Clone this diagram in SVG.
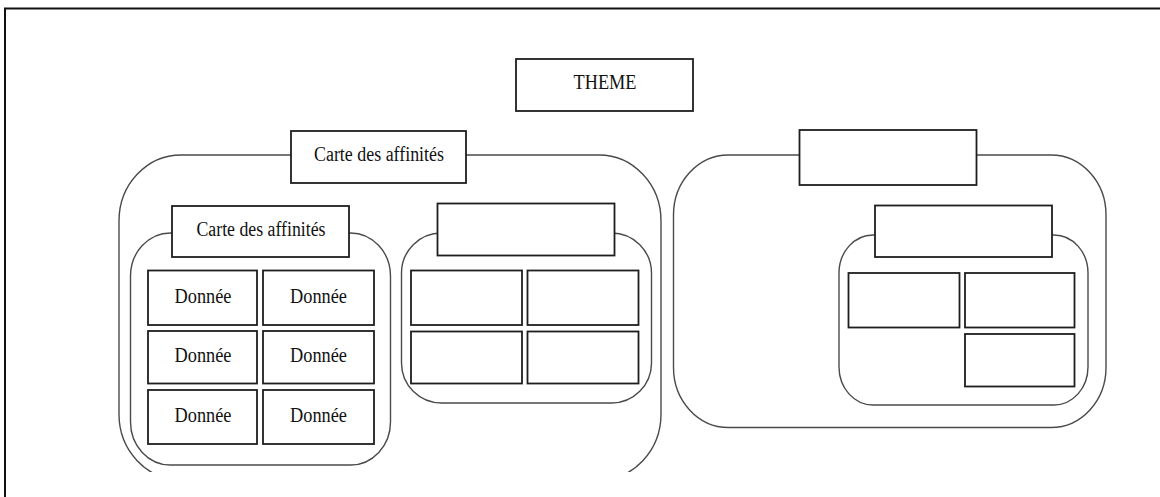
<svg xmlns="http://www.w3.org/2000/svg" width="1160" height="497" viewBox="0 0 1160 497">
<style>
.frame{stroke:#111;stroke-width:2;fill:none}
.group{fill:#fff;stroke:#4a4a4a;stroke-width:1.4}
.box{fill:#fff;stroke:#1e1e1e;stroke-width:1.8}
.t{font-family:"Liberation Serif","Times New Roman",serif;font-size:20px;fill:#111;text-anchor:middle}
</style>
<defs>
<clipPath id="clipBottom"><rect x="0" y="0" width="1160" height="472"/></clipPath>
</defs>
<rect width="1160" height="497" fill="#fff"/>
<g id="frame">
<line class="frame" x1="4" y1="8.5" x2="1160" y2="8.5"/>
<line class="frame" x1="5" y1="8" x2="5" y2="497"/>
</g>
<g id="connectors"></g>
<g id="theme">
<rect class="box" x="516" y="59" width="177" height="52"/>
<text class="t" x="605" y="88.5" textLength="63" lengthAdjust="spacingAndGlyphs">THEME</text>
</g>
<g id="group-left" clip-path="url(#clipBottom)">
<rect class="group" x="119" y="155" width="542" height="325" rx="62" ry="66"/>
</g>
<g id="group-right">
<rect class="group" x="673.5" y="155" width="432.5" height="272.5" rx="55" ry="60"/>
</g>
<g id="title-left">
<rect class="box" x="291" y="131" width="175" height="52"/>
<text class="t" x="379" y="161" textLength="130" lengthAdjust="spacingAndGlyphs">Carte des affinités</text>
</g>
<g id="title-right">
<rect class="box" x="799.5" y="130" width="177" height="55"/>
</g>
<g id="sub-left">
<rect class="group" x="130.5" y="233" width="260" height="232" rx="40" ry="43"/>
</g>
<g id="sub-left-title">
<rect class="box" x="172" y="206" width="177" height="51"/>
<text class="t" x="261" y="235.5" textLength="129" lengthAdjust="spacingAndGlyphs">Carte des affinités</text>
</g>
<g id="cell-l-1"><rect class="box" x="148" y="270.5" width="109" height="54.5"/><text class="t" x="203" y="302.5" textLength="57" lengthAdjust="spacingAndGlyphs">Donnée</text></g>
<g id="cell-l-2"><rect class="box" x="263" y="270.5" width="111" height="54.5"/><text class="t" x="318.5" y="302.5" textLength="57" lengthAdjust="spacingAndGlyphs">Donnée</text></g>
<g id="cell-l-3"><rect class="box" x="148" y="331" width="109" height="52.5"/><text class="t" x="203" y="361.5" textLength="57" lengthAdjust="spacingAndGlyphs">Donnée</text></g>
<g id="cell-l-4"><rect class="box" x="263" y="331" width="111" height="52.5"/><text class="t" x="318.5" y="361.5" textLength="57" lengthAdjust="spacingAndGlyphs">Donnée</text></g>
<g id="cell-l-5"><rect class="box" x="148" y="390" width="109" height="54"/><text class="t" x="203" y="421.5" textLength="57" lengthAdjust="spacingAndGlyphs">Donnée</text></g>
<g id="cell-l-6"><rect class="box" x="263" y="390" width="111" height="54"/><text class="t" x="318.5" y="421.5" textLength="57" lengthAdjust="spacingAndGlyphs">Donnée</text></g>
<g id="sub-mid">
<rect class="group" x="401.5" y="233" width="250" height="170" rx="40" ry="40"/>
</g>
<g id="sub-mid-title">
<rect class="box" x="437.5" y="203.5" width="177" height="52"/>
</g>
<g id="cell-m-1"><rect class="box" x="411" y="270.5" width="111" height="54.5"/></g>
<g id="cell-m-2"><rect class="box" x="527.5" y="270.5" width="111" height="54.5"/></g>
<g id="cell-m-3"><rect class="box" x="411" y="331.5" width="111" height="52"/></g>
<g id="cell-m-4"><rect class="box" x="527.5" y="331.5" width="111" height="52"/></g>
<g id="sub-right">
<rect class="group" x="839" y="235" width="249" height="170" rx="34" ry="38"/>
</g>
<g id="sub-right-title">
<rect class="box" x="875" y="205.5" width="177" height="51.5"/>
</g>
<g id="cell-r-1"><rect class="box" x="848.5" y="273" width="111" height="54.5"/></g>
<g id="cell-r-2"><rect class="box" x="965" y="273" width="109.5" height="54.5"/></g>
<g id="cell-r-3"><rect class="box" x="965" y="334" width="109.5" height="52.5"/></g>
</svg>
